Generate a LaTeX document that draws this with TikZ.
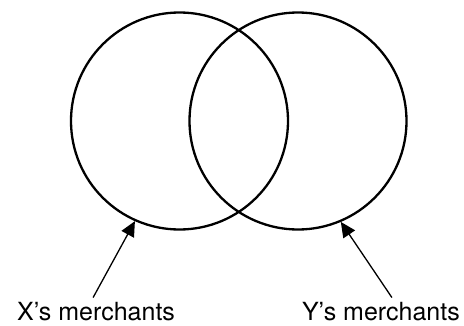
\documentclass[tikz,border=0pt]{standalone}
\usepackage{fontspec}
\setmainfont{TeX Gyre Heros}
\usetikzlibrary{arrows.meta,positioning}

\begin{document}
\begin{tikzpicture}[x=1pt, y=1pt,
  setcircle/.style={draw, circle, line width=2.3pt, minimum size=217pt, inner sep=0pt},
  merchlabel/.style={inner sep=0pt, font=\fontsize{25}{30}\selectfont},
  pointer/.style={line width=1.3pt, -{Triangle[length=15pt, width=14pt]}}]
  % 画布
  \useasboundingbox (0,0) rectangle (464,325);

  % 两个集合
  \node[setcircle] (xset) at (179.5,204) {};
  \node[setcircle] (yset) at (298,204) {};

  % 标签
  \node[merchlabel, anchor=base west] (xlab) at (17,5) {X's merchants};
  \node[merchlabel, anchor=base east] (ylab) at (460,5) {Y's merchants};

  % 箭头
  \draw[pointer] ([shift={(-3,4)}]xlab.north) -- (xset.246.7);
  \draw[pointer] ([shift={(11,4)}]ylab.north) -- (yset.293.3);
\end{tikzpicture}
\end{document}
